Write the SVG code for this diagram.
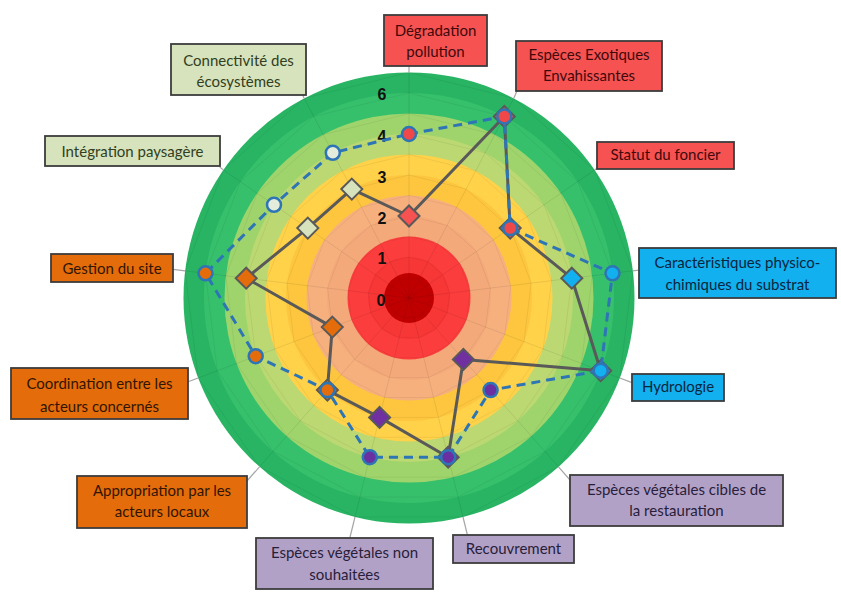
<svg xmlns="http://www.w3.org/2000/svg" xmlns:xlink="http://www.w3.org/1999/xlink" width="841" height="597" viewBox="0 0 841 597">
<style>
.lbl{font-family:Lato,"Liberation Sans",sans-serif;font-size:15px;text-anchor:middle}
.box{stroke:#3c3c3c;stroke-width:1.8}
.red{fill:#f65252}.redt{fill:#3e0a0a}
.grn{fill:#d6e3bc}.grnt{fill:#323e22}
.org{fill:#e46c0a}.orgt{fill:#321500}
.blu{fill:#12b0ef}.blut{fill:#0a2540}
.pur{fill:#b2a1c7}.purt{fill:#281e3a}
.lead{stroke:#a6a6a6;stroke-width:1.2;fill:none}
.grid{fill:none;stroke:#000;stroke-opacity:0.06;stroke-width:1}
.num{font-family:"Liberation Sans",Arial,sans-serif;font-size:16px;font-weight:bold;fill:#111;text-anchor:middle}
.sol{fill:none;stroke:#595959;stroke-width:3;stroke-linejoin:round}
.dsh{fill:none;stroke:#2e75b6;stroke-width:3;stroke-dasharray:9 6}
.dm{stroke:#595959;stroke-width:2}
.cm{stroke:#2e75b6;stroke-width:2.5}
</style>
<defs>
<path id="dia" d="M0,-10.5 L10.5,0 L0,10.5 L-10.5,0Z"/>
<circle id="cir" r="7"/>
</defs>
<rect width="841" height="597" fill="#fff"/>
<g id="chart-bg">
<circle cx="409" cy="298" r="225.5" fill="#28b463"/>
<circle cx="409" cy="298" r="205" fill="#36c06c"/>
<circle cx="409" cy="298" r="184.5" fill="#9fd46c"/>
<circle cx="409" cy="298" r="164" fill="#bcd872"/>
<circle cx="409" cy="298" r="143.5" fill="#ffd24a"/>
<circle cx="409" cy="298" r="123" fill="#fdc63e"/>
<circle cx="409" cy="298" r="102.5" fill="#f6b07e"/>
<circle cx="409" cy="298" r="82" fill="#f4a97a"/>
<circle cx="409" cy="298" r="61.5" fill="#fc3d3d"/>
<circle cx="409" cy="298" r="41" fill="#f73636"/>
<circle cx="409" cy="298" r="25" fill="#c00000"/>
</g>
<g id="grid">
<polygon class="grid" points="409,277.5 418.5,279.8 425.9,286.4 429.4,295.5 428.2,305.3 422.6,313.3 414,317.9 404.1,317.9 395.4,313.3 389.8,305.3 388.6,295.5 392.1,286.4 399.5,279.8"/>
<polygon class="grid" points="409,257 428.1,261.7 442.7,274.7 449.7,293.1 447.3,312.5 436.2,328.7 418.8,337.8 399.2,337.8 381.8,328.7 370.7,312.5 368.3,293.1 375.3,274.7 389.9,261.7"/>
<polygon class="grid" points="409,236.5 437.6,243.5 459.6,263.1 470,290.6 466.5,319.8 449.8,344 423.7,357.7 394.3,357.7 368.2,344 351.5,319.8 348,290.6 358.4,263.1 380.4,243.5"/>
<polygon class="grid" points="409,216 447.1,225.4 476.5,251.4 490.4,288.1 485.7,327.1 463.4,359.4 428.6,377.6 389.4,377.6 354.6,359.4 332.3,327.1 327.6,288.1 341.5,251.4 370.9,225.4"/>
<polygon class="grid" points="409,195.5 456.6,207.2 493.4,239.8 510.8,285.6 504.8,334.4 477,374.7 433.5,397.5 384.5,397.5 341,374.7 313.2,334.4 307.2,285.6 324.6,239.8 361.4,207.2"/>
<polygon class="grid" points="409,175 466.2,189.1 510.2,228.1 531.1,283.2 524,341.6 490.6,390.1 438.4,417.4 379.6,417.4 327.4,390.1 294,341.6 286.9,283.2 307.8,228.1 351.8,189.1"/>
<polygon class="grid" points="409,154.5 475.7,170.9 527.1,216.5 551.5,280.7 543.2,348.9 504.2,405.4 443.3,437.3 374.7,437.3 313.8,405.4 274.8,348.9 266.5,280.7 290.9,216.5 342.3,170.9"/>
<polygon class="grid" points="409,134 485.2,152.8 544,204.8 571.8,278.2 562.3,356.2 517.7,420.8 448.2,457.2 369.8,457.2 300.3,420.8 255.7,356.2 246.2,278.2 274,204.8 332.8,152.8"/>
<polygon class="grid" points="409,113.5 494.7,134.6 560.8,193.2 592.2,275.8 581.5,363.4 531.3,436.1 453.2,477.1 364.8,477.1 286.7,436.1 236.5,363.4 225.8,275.8 257.2,193.2 323.3,134.6"/>
<polygon class="grid" points="409,93 504.3,116.5 577.7,181.5 612.5,273.3 600.7,370.7 544.9,451.4 458.1,497 359.9,497 273.1,451.4 217.3,370.7 205.5,273.3 240.3,181.5 313.7,116.5"/>
<polygon class="grid" points="409,72.5 513.8,98.3 594.6,169.9 632.9,270.8 619.8,378 558.5,466.8 463,517 355,517 259.5,466.8 198.2,378 185.1,270.8 223.4,169.9 304.2,98.3"/>
<g stroke="#000" stroke-opacity="0.08" stroke-width="1">
<line x1="409" y1="298" x2="409" y2="72.5"/><line x1="409" y1="298" x2="513.8" y2="98.3"/><line x1="409" y1="298" x2="594.6" y2="169.9"/><line x1="409" y1="298" x2="632.9" y2="270.8"/><line x1="409" y1="298" x2="619.8" y2="378"/><line x1="409" y1="298" x2="558.5" y2="466.8"/><line x1="409" y1="298" x2="463" y2="517"/><line x1="409" y1="298" x2="355" y2="517"/><line x1="409" y1="298" x2="259.5" y2="466.8"/><line x1="409" y1="298" x2="198.2" y2="378"/><line x1="409" y1="298" x2="185.1" y2="270.8"/><line x1="409" y1="298" x2="223.4" y2="169.9"/><line x1="409" y1="298" x2="304.2" y2="98.3"/>
</g>
</g>
<g id="axis-values">
<text class="num" x="381" y="306">0</text>
<text class="num" x="382" y="264">1</text>
<text class="num" x="382" y="224">2</text>
<text class="num" x="382" y="183">3</text>
<text class="num" x="382" y="142">4</text>
<text class="num" x="382" y="100">6</text>
</g>
<g id="connectors">
<line class="lead" x1="409" y1="72.5" x2="409" y2="66"/>
<line class="lead" x1="513.8" y1="98.3" x2="517" y2="91"/>
<line class="lead" x1="594.6" y1="169.9" x2="598" y2="167.5"/>
<line class="lead" x1="632.9" y1="270.8" x2="639" y2="270.1"/>
<line class="lead" x1="619.8" y1="378" x2="632" y2="382.6"/>
<line class="lead" x1="558.5" y1="466.8" x2="570" y2="480"/>
<line class="lead" x1="463" y1="517" x2="467.4" y2="535"/>
<line class="lead" x1="355" y1="517" x2="349.8" y2="538"/>
<line class="lead" x1="259.5" y1="466.8" x2="247" y2="481"/>
<line class="lead" x1="198.2" y1="378" x2="188" y2="381.8"/>
<line class="lead" x1="185.1" y1="270.8" x2="173" y2="269.3"/>
<line class="lead" x1="223.4" y1="169.9" x2="219.7" y2="167"/>
<line class="lead" x1="304.2" y1="98.3" x2="302.5" y2="95"/>
</g>
<g id="series-solid">
<polygon class="sol" points="409,216 504.3,116.5 510.2,228.1 571.8,278.2 600.7,370.7 463.4,359.4 448.2,457.2 379.6,417.4 327.4,390.1 332.3,327.1 246.2,278.2 307.8,228.1 351.8,189.1"/>
<use href="#dia" class="dm red" x="409" y="216"/>
<use href="#dia" class="dm red" x="504.3" y="116.5"/>
<use href="#dia" class="dm red" x="510.2" y="228.1"/>
<use href="#dia" class="dm blu" x="571.8" y="278.2"/>
<use href="#dia" class="dm blu" x="600.7" y="370.7"/>
<use href="#dia" class="dm" fill="#7030a0" x="463.4" y="359.4"/>
<use href="#dia" class="dm" fill="#7030a0" x="448.2" y="457.2"/>
<use href="#dia" class="dm" fill="#7030a0" x="379.6" y="417.4"/>
<use href="#dia" class="dm org" x="327.4" y="390.1"/>
<use href="#dia" class="dm org" x="332.3" y="327.1"/>
<use href="#dia" class="dm org" x="246.2" y="278.2"/>
<use href="#dia" class="dm grn" x="307.8" y="228.1"/>
<use href="#dia" class="dm grn" x="351.8" y="189.1"/>
</g>
<g id="series-dashed">
<polygon class="dsh" points="409,134 504.3,116.5 510.2,228.1 612.5,273.3 600.7,370.7 490.6,390.1 448.2,457.2 369.8,457.2 327.4,390.1 255.7,356.2 205.5,273.3 274,204.8 332.8,152.8"/>
<use href="#cir" class="cm" fill="#f04848" x="409" y="134"/>
<use href="#cir" class="cm" fill="#f04848" x="504.3" y="116.5"/>
<use href="#cir" class="cm" fill="#f04848" x="510.2" y="228.1"/>
<use href="#cir" class="cm blu" x="612.5" y="273.3"/>
<use href="#cir" class="cm blu" x="600.7" y="370.7"/>
<use href="#cir" class="cm" fill="#6a2fa0" x="490.6" y="390.1"/>
<use href="#cir" class="cm" fill="#6a2fa0" x="448.2" y="457.2"/>
<use href="#cir" class="cm" fill="#6a2fa0" x="369.8" y="457.2"/>
<use href="#cir" class="cm org" x="327.4" y="390.1"/>
<use href="#cir" class="cm org" x="255.7" y="356.2"/>
<use href="#cir" class="cm org" x="205.5" y="273.3"/>
<use href="#cir" class="cm" fill="#e4ecdc" x="274" y="204.8"/>
<use href="#cir" class="cm" fill="#e4ecdc" x="332.8" y="152.8"/>
</g>
<g id="n-degradation"><rect class="box red" x="384" y="15" width="103" height="51"/><text class="lbl redt" x="435.5" y="36">Dégradation</text><text class="lbl redt" x="435.5" y="57">pollution</text></g>
<g id="n-eee"><rect class="box red" x="516" y="41" width="146" height="50"/><text class="lbl redt" x="589" y="60">Espèces Exotiques</text><text class="lbl redt" x="589" y="81">Envahissantes</text></g>
<g id="n-statut"><rect class="box red" x="597" y="142" width="137" height="27"/><text class="lbl redt" x="665.5" y="160">Statut du foncier</text></g>
<g id="n-caract"><rect class="box blu" x="639" y="248" width="197" height="50"/><text class="lbl blut" x="737.5" y="268">Caractéristiques physico-</text><text class="lbl blut" x="737.5" y="290">chimiques du substrat</text></g>
<g id="n-hydro"><rect class="box blu" x="632" y="374" width="92" height="27"/><text class="lbl blut" x="678" y="392">Hydrologie</text></g>
<g id="n-cibles"><rect class="box pur" x="570" y="475" width="213" height="51"/><text class="lbl purt" x="676.5" y="495">Espèces végétales cibles de</text><text class="lbl purt" x="676.5" y="516">la restauration</text></g>
<g id="n-recouvrement"><rect class="box pur" x="453" y="535" width="121" height="28"/><text class="lbl purt" x="513.5" y="554">Recouvrement</text></g>
<g id="n-non-souhaitees"><rect class="box pur" x="256" y="538" width="177" height="51"/><text class="lbl purt" x="344.5" y="558">Espèces végétales non</text><text class="lbl purt" x="344.5" y="580">souhaitées</text></g>
<g id="n-appropriation"><rect class="box org" x="77" y="476" width="170" height="52"/><text class="lbl orgt" x="162" y="496">Appropriation par les</text><text class="lbl orgt" x="162" y="517">acteurs locaux</text></g>
<g id="n-coordination"><rect class="box org" x="11" y="368" width="177" height="51"/><text class="lbl orgt" x="99.5" y="389">Coordination entre les</text><text class="lbl orgt" x="99.5" y="412">acteurs concernés</text></g>
<g id="n-gestion"><rect class="box org" x="51" y="254" width="122" height="28"/><text class="lbl orgt" x="112" y="274">Gestion du site</text></g>
<g id="n-integration"><rect class="box grn" x="45" y="136" width="175" height="30"/><text class="lbl grnt" x="132.5" y="157">Intégration paysagère</text></g>
<g id="n-connectivite"><rect class="box grn" x="171" y="44" width="135" height="51"/><text class="lbl grnt" x="238.5" y="66">Connectivité des</text><text class="lbl grnt" x="238.5" y="87">écosystèmes</text></g>
</svg>
